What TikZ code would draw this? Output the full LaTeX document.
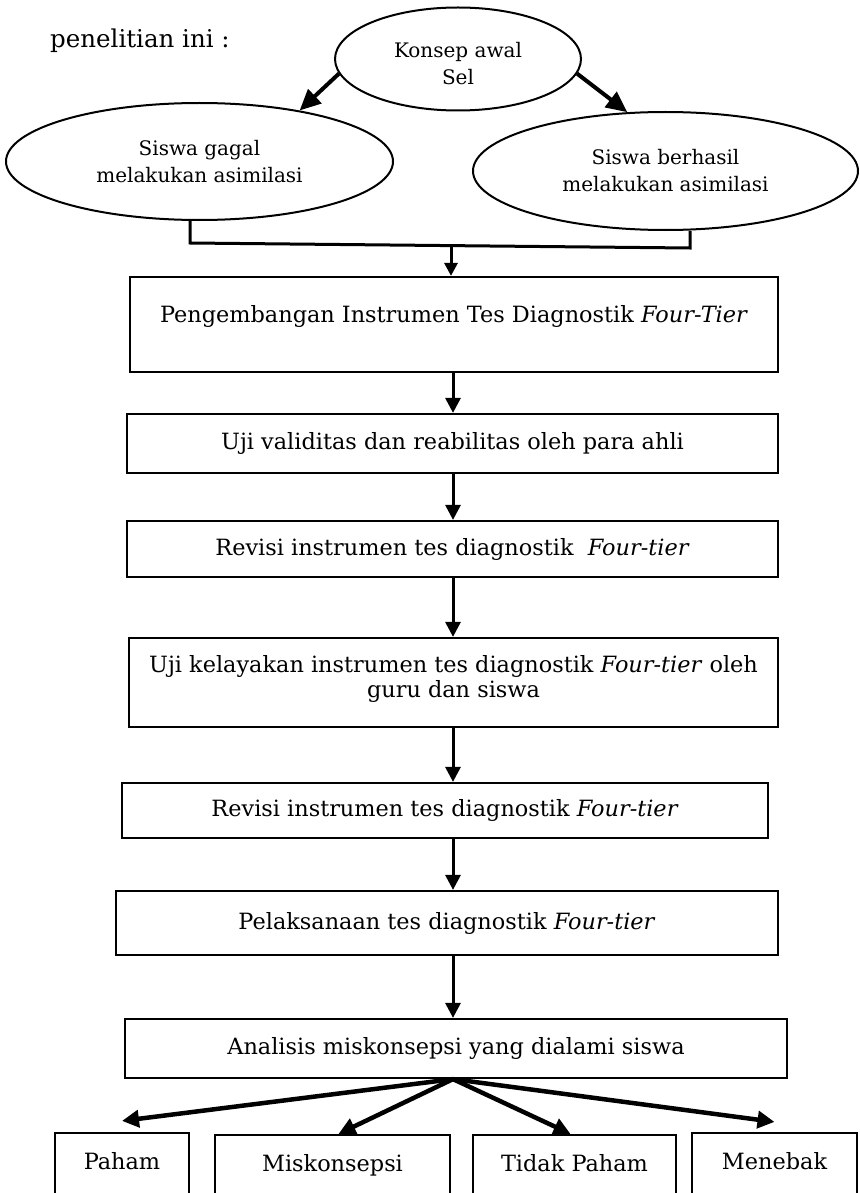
\documentclass[tikz,border=0pt]{standalone}
\usepackage{fontspec}
\setmainfont{DejaVu Serif}
\usetikzlibrary{arrows.meta,shapes.geometric,calc}
\begin{document}
\begin{tikzpicture}[x=1pt,y=-1pt,
  ell/.style={draw, ellipse, line width=2pt, inner sep=0pt, align=center,
    font=\fontsize{20}{27}\selectfont},
  boxbase/.style={draw, rectangle, line width=2.2pt, inner sep=0pt, align=center,
    font=\fontsize{22.4}{25}\selectfont},
  stepbox/.style={boxbase, text height=17pt, text depth=5pt},
  lowbox/.style={boxbase, text height=17pt, text depth=15pt, minimum height=70pt},
  varr/.style={line width=3pt, -{Triangle[length=15pt,width=15pt]}},
  sarr/.style={line width=3pt, -{Triangle[length=13pt,width=13pt]}},
  darr/.style={line width=4.5pt, -{Triangle[length=17pt,width=17pt]}},
  karr/.style={line width=4pt, -{Triangle[length=21pt,width=19pt]}},
  bracket/.style={line width=3pt}
]
\fill[white] (0,0) rectangle (859,1193);
\useasboundingbox (0,0) rectangle (859,1193);
\clip (0,0) rectangle (859,1193);

% intro text
\node[anchor=base west, inner sep=0pt, font=\fontsize{24.5}{30}\selectfont] (intro) at (50,48) {penelitian ini :};

% ellipses
\node[ell, minimum width=246pt, minimum height=103pt] (konsep) at (458,59)
  {\rule{0pt}{25pt}Konsep awal\\Sel};
\node[ell, minimum width=387pt, minimum height=117pt] (gagal) at (199.5,161.5)
  {Siswa gagal\\melakukan asimilasi};
\node[ell, minimum width=385pt, minimum height=118pt] (berhasil) at (665.5,171)
  {Siswa berhasil\\melakukan asimilasi};

% boxes
\node[boxbase, text height=17pt, text depth=22pt, minimum width=648pt, minimum height=95pt] (box1) at (454,324.5)
  {Pengembangan Instrumen Tes Diagnostik \textit{Four-Tier}};
\node[stepbox, minimum width=651pt, minimum height=59pt] (box2) at (452.5,443.5)
  {Uji validitas dan reabilitas oleh para ahli};
\node[stepbox, minimum width=651pt, minimum height=56pt] (box3) at (452.5,549)
  {Revisi instrumen tes diagnostik\ \ \textit{Four-tier}};
\node[boxbase, minimum width=649pt, minimum height=89pt] (box4) at (453.5,682.5)
  {Uji kelayakan instrumen tes diagnostik \textit{Four-tier} oleh\\guru dan siswa\rule[-12pt]{0pt}{12pt}};
\node[stepbox, minimum width=646pt, minimum height=55pt] (box5) at (445,810.5)
  {Revisi instrumen tes diagnostik \textit{Four-tier}};
\node[stepbox, minimum width=662pt, minimum height=64pt] (box6) at (447,923)
  {Pelaksanaan tes diagnostik \textit{Four-tier}};
\node[stepbox, minimum width=662pt, minimum height=59pt] (anal) at (456,1048.5)
  {Analisis miskonsepsi yang dialami siswa};

% result boxes (cut by the page edge)
\node[lowbox, minimum width=134pt] (paham) at (122,1168) {Paham};
\node[lowbox, minimum width=235pt] (misk) at (332.5,1170) {Miskonsepsi};
\node[lowbox, minimum width=203pt] (tidak) at (574.5,1170) {Tidak Paham};
\node[lowbox, minimum width=165pt] (menebak) at (774.5,1168) {Menebak};

% connectors
\draw[karr] (konsep.187.5) -- (gagal.27);
\draw[karr] (konsep.353.3) -- (berhasil.123);

\coordinate (bl) at (190,243);
\coordinate (br) at (690,248);
\draw[bracket] (gagal.south -| bl) -- (bl) -- (br) -- (berhasil.south -| br);
\coordinate (bm) at ($(bl)!0.522!(br)$);
\draw[sarr] (bm) -- (box1.north -| bm);

\coordinate (ax) at (453,0);
\draw[varr] (box1.south -| ax) -- (box2.north -| ax);
\draw[varr] (box2.south -| ax) -- (box3.north -| ax);
\draw[varr] (box3.south -| ax) -- (box4.north -| ax);
\draw[varr] (box4.south -| ax) -- (box5.north -| ax);
\draw[varr] (box5.south -| ax) -- (box6.north -| ax);
\draw[varr] (box6.south -| ax) -- (anal.north -| ax);

\draw[darr] (anal.south -| ax) -- ($(paham.north)+(0,-11)$);
\draw[darr] (anal.south -| ax) -- ($(misk.north)+(6,0)$);
\draw[darr] (anal.south -| ax) -- ($(tidak.north)+(-4,0)$);
\draw[darr] (anal.south -| ax) -- ($(menebak.north)+(0,-10)$);
\end{tikzpicture}
\end{document}
